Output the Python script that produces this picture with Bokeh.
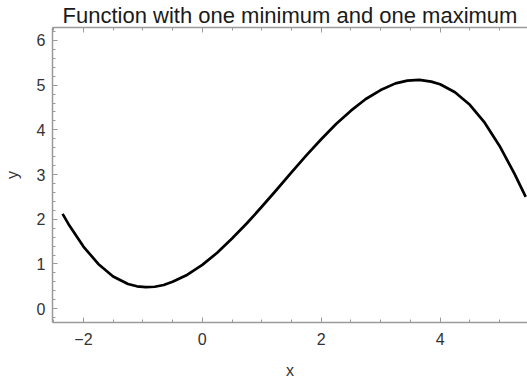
from bokeh.plotting import figure
from bokeh.models import LinearAxis, SingleIntervalTicker, Range1d, Title
from bokeh.embed import file_html
from bokeh.resources import INLINE

# Curve samples (x, y)
x_vals = [-2.35, -2.25, -2.0, -1.75, -1.5, -1.25, -1.1, -0.95, -0.8, -0.65,
          -0.5, -0.25, 0.0, 0.25, 0.5, 0.75, 1.0, 1.25, 1.5, 1.75,
          2.0, 2.25, 2.5, 2.75, 3.0, 3.25, 3.45, 3.65, 3.85, 4.0,
          4.25, 4.5, 4.75, 5.0, 5.25, 5.44]
y_vals = [2.12, 1.89, 1.39, 1.00, 0.72, 0.55, 0.50, 0.48, 0.49, 0.53,
          0.60, 0.76, 0.98, 1.25, 1.57, 1.91, 2.28, 2.66, 3.05, 3.43,
          3.79, 4.13, 4.43, 4.69, 4.89, 5.04, 5.10, 5.12, 5.08, 5.02,
          4.84, 4.56, 4.16, 3.64, 3.02, 2.50]

x_ticks = [-2, 0, 2, 4]
x_tick_labels = ["\u22122", "0", "2", "4"]

FONT = "Liberation Sans"
FRAME = "#9a9a9a"
LABEL = "#333333"

p = figure(width=527, height=381, output_backend="svg", toolbar_location=None,
           x_range=Range1d(-2.52, 5.47), y_range=Range1d(-0.31, 6.29),
           x_axis_location=None, y_axis_location=None,
           min_border_left=52, min_border_right=0,
           min_border_top=27, min_border_bottom=57)
p.grid.visible = False
p.outline_line_color = None
p.background_fill_color = "white"
p.border_fill_color = "white"


def style(ax):
    ax.axis_line_color = FRAME
    ax.axis_line_width = 1.5
    ax.major_tick_line_color = FRAME
    ax.minor_tick_line_color = FRAME
    ax.major_tick_in = 5
    ax.major_tick_out = 0
    ax.minor_tick_in = 3
    ax.minor_tick_out = 0
    ax.major_label_text_font = FONT
    ax.major_label_text_font_size = "16px"
    ax.major_label_text_color = LABEL
    ax.axis_label_text_font = FONT
    ax.axis_label_text_font_size = "16px"
    ax.axis_label_text_font_style = "normal"
    ax.axis_label_text_color = LABEL


# top edge of the frame: ticks only
xt = LinearAxis(ticker=SingleIntervalTicker(interval=2, num_minor_ticks=4))
style(xt)
xt.major_label_overrides = {t: "" for t in x_ticks}
xt.major_label_standoff = 0
p.add_layout(xt, "above")

p.add_layout(Title(text="Function with one minimum and one maximum",
                   align="center", text_font=FONT, text_font_size="22px",
                   text_font_style="normal", text_color="#1a1a1a",
                   standoff=0), "above")

xb = LinearAxis(ticker=SingleIntervalTicker(interval=2, num_minor_ticks=4),
                axis_label="x")
style(xb)
xb.major_label_overrides = dict(zip(x_ticks, x_tick_labels))
xb.major_label_standoff = 10
xb.axis_label_standoff = 14
p.add_layout(xb, "below")

yl = LinearAxis(ticker=SingleIntervalTicker(interval=1, num_minor_ticks=5),
                axis_label="y")
style(yl)
yl.major_label_standoff = 7
yl.axis_label_standoff = 13
p.add_layout(yl, "left")

p.line(x_vals, y_vals, line_color="black", line_width=2.7, line_join="round")

open("out.html", "w").write(file_html(p, INLINE))
